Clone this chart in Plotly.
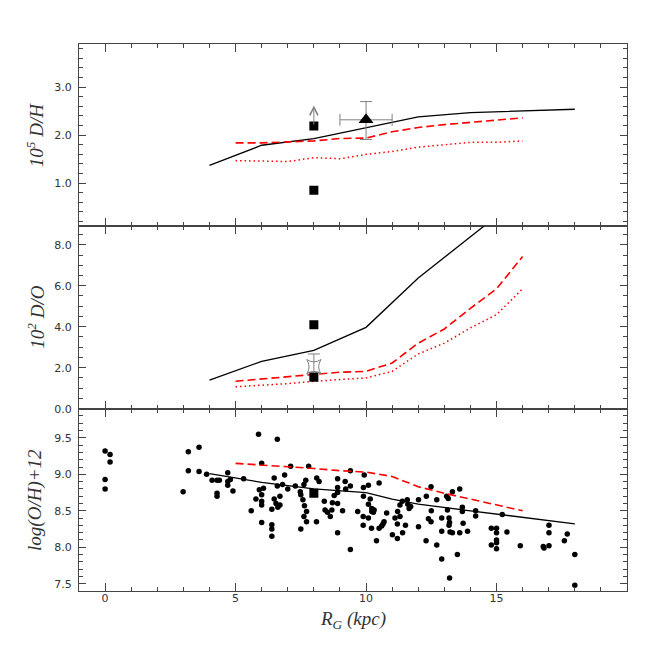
import plotly.graph_objects as go
from plotly.subplots import make_subplots

# model curves, D/H panel
dh_solid_x = [4, 6, 8, 10, 12, 14, 16, 18]
dh_solid_y = [1.37, 1.79, 1.93, 2.15, 2.38, 2.47, 2.51, 2.54]
model_x = [5, 6, 7, 8, 9, 10, 11, 12, 13, 14, 15, 16]
dh_dash_y = [1.84, 1.84, 1.86, 1.88, 1.93, 1.94, 2.07, 2.16, 2.22, 2.27, 2.31, 2.36]
dh_dot_y = [1.47, 1.46, 1.45, 1.53, 1.51, 1.60, 1.66, 1.75, 1.80, 1.85, 1.85, 1.88]

# observations, D/H panel
dh_sq_x = [8, 8]
dh_sq_y = [2.19, 0.85]
dh_limit_from = 2.19
dh_limit_to = 2.62
dh_tri_x = [10]
dh_tri_y = [2.32]
dh_tri_up = [0.38]
dh_tri_down = [0.41]
dh_tri_xerr = [1.0]

# model curves, D/O panel
do_solid_x = [4, 6, 8, 10, 12, 14, 16]
do_solid_y = [1.39, 2.31, 2.85, 3.97, 6.38, 8.40, 10.40]
do_dash_y = [1.34, 1.45, 1.55, 1.66, 1.78, 1.82, 2.23, 3.20, 3.89, 4.90, 5.85, 7.43]
do_dot_y = [1.07, 1.14, 1.22, 1.34, 1.42, 1.50, 1.82, 2.67, 3.20, 3.94, 4.59, 5.85]

# observations, D/O panel
do_sq_x = [8, 8]
do_sq_y = [4.10, 1.53]
do_star_x = [8]
do_star_y = [2.05]
do_star_up = [0.62]
do_star_down = [0.27]

# model curves, O/H panel
oh_solid_x = [4, 6, 8, 10, 11, 12, 14, 16, 18]
oh_solid_y = [9.01, 8.89, 8.80, 8.75, 8.66, 8.59, 8.50, 8.41, 8.32]
oh_dash_y = [9.15, 9.13, 9.10, 9.08, 9.05, 9.03, 8.97, 8.83, 8.74, 8.66, 8.58, 8.50]

# HII regions / stars, O/H panel
oh_x = [0.0, 0.19, 0.19, 0.0, 0.0, 2.99, 3.19, 3.60, 3.19, 3.60, 3.89, 4.10, 4.29, 4.38,
        4.70, 4.70, 4.80, 4.70, 4.29, 4.29, 4.90,
        5.88, 6.60, 6.00, 5.31, 6.48, 6.88, 7.11, 6.80, 6.60, 5.91, 6.07, 6.00, 5.78,
        6.00, 6.00, 6.48, 6.70, 6.55, 6.62, 6.70, 6.39, 5.60, 6.00, 6.39, 6.39, 6.39,
        7.00, 7.29, 7.69, 7.62, 7.48, 7.50, 7.58, 7.64, 7.72, 7.62, 7.72, 7.50, 7.80,
        8.11, 8.20, 8.10, 8.40, 8.43, 8.52, 8.63, 8.69, 8.71, 8.78, 8.91, 8.91, 8.91,
        8.91, 9.10, 9.20, 9.22, 8.91, 9.40, 9.40, 9.40,
        9.93, 9.90, 10.09, 10.50, 9.90, 10.16, 10.09, 10.22, 10.31, 10.22, 10.28, 9.68,
        9.89, 10.09, 9.89, 10.21, 10.50, 10.60, 10.65, 10.69, 10.40, 10.79, 11.11,
        11.21, 11.30, 11.20, 11.01, 11.20, 11.40, 11.51, 11.30, 11.39, 11.58, 11.60,
        11.65, 11.71, 12.01, 12.31, 12.49, 12.71, 12.01, 12.39, 12.49, 12.30, 12.50,
        12.71, 12.90, 12.90, 12.90, 13.09, 13.15, 13.31, 13.12, 13.18, 13.20, 13.18,
        13.22, 13.31, 13.59, 13.69, 13.69, 13.59, 13.89, 13.50, 13.20,
        13.72, 14.20, 14.20, 15.22, 14.80, 15.00, 15.00, 15.40, 14.80, 15.00, 15.00,
        15.00, 15.91, 16.79, 16.82, 17.01, 17.01, 17.01, 17.71, 17.60, 18.00, 18.00]
oh_y = [9.32, 9.27, 9.17, 8.93, 8.80, 8.76, 9.31, 9.37, 9.05, 9.04, 9.00, 8.92, 8.92, 8.92,
        9.02, 8.90, 8.93, 8.85, 8.74, 8.70, 8.77,
        9.55, 9.48, 9.15, 8.94, 8.95, 8.99, 9.11, 8.86, 8.84, 8.79, 8.81, 8.72, 8.66,
        8.63, 8.58, 8.66, 8.70, 8.60, 8.55, 8.58, 8.52, 8.50, 8.34, 8.31, 8.25, 8.15,
        8.80, 8.84, 8.92, 8.86, 8.76, 8.72, 8.65, 8.57, 8.49, 8.42, 8.35, 8.25, 9.11,
        8.95, 8.90, 8.35, 8.63, 8.51, 8.48, 8.42, 8.51, 8.61, 8.71, 8.94, 8.82, 8.75,
        8.60, 8.50, 8.90, 8.80, 8.20, 9.05, 8.84, 7.97,
        8.99, 8.82, 8.85, 8.88, 8.70, 8.66, 8.59, 8.53, 8.51, 8.49, 8.48, 8.49,
        8.42, 8.40, 8.30, 8.26, 8.26, 8.29, 8.32, 8.35, 8.09, 8.47, 8.40,
        8.49, 8.42, 8.32, 8.17, 8.12, 8.20, 8.30, 8.58, 8.63, 8.65, 8.59,
        8.53, 8.56, 8.65, 8.70, 8.83, 8.65, 8.28, 8.39, 8.35, 8.09, 8.50,
        8.03, 8.40, 8.22, 7.84, 8.70, 8.67, 8.76, 8.51, 8.40, 8.34, 8.30,
        8.21, 8.20, 8.80, 8.55, 8.49, 8.20, 8.22, 7.90, 7.58,
        8.33, 8.50, 8.43, 8.45, 8.26, 8.26, 8.20, 8.21, 8.03, 8.10, 8.06,
        7.98, 8.02, 8.01, 7.99, 8.30, 8.20, 8.02, 8.18, 8.09, 7.90, 7.48]
oh_sq_x = [8]
oh_sq_y = [8.74]

x_ticks = [0, 5, 10, 15]

RED = "#ff0000"
GRAY = "#808080"
AXC = "#444444"

fig = make_subplots(rows=3, cols=1, shared_xaxes=True, vertical_spacing=0)


def add_models(row, sx, sy, dash_y, dot_y=None):
    fig.add_trace(go.Scatter(x=sx, y=sy, mode="lines",
                             line=dict(color="black", width=1.3)), row=row, col=1)
    fig.add_trace(go.Scatter(x=model_x, y=dash_y, mode="lines",
                             line=dict(color=RED, width=1.6, dash="8px,4px")),
                  row=row, col=1)
    if dot_y is not None:
        fig.add_trace(go.Scatter(x=model_x, y=dot_y, mode="lines",
                                 line=dict(color=RED, width=1.5, dash="1.5px,3px")),
                      row=row, col=1)


# D/H
add_models(1, dh_solid_x, dh_solid_y, dh_dash_y, dh_dot_y)
fig.add_trace(go.Scatter(x=dh_tri_x, y=dh_tri_y, mode="markers",
                         marker=dict(symbol="triangle-up", size=13, color="black"),
                         error_y=dict(type="data", array=dh_tri_up, arrayminus=dh_tri_down,
                                      color=GRAY, thickness=1, width=6),
                         error_x=dict(type="data", array=dh_tri_xerr,
                                      color=GRAY, thickness=1, width=6)),
              row=1, col=1)
fig.add_trace(go.Scatter(x=dh_sq_x, y=dh_sq_y, mode="markers",
                         marker=dict(symbol="square", size=9, color="black")),
              row=1, col=1)
fig.add_annotation(x=dh_sq_x[0], y=dh_limit_to, ax=dh_sq_x[0], ay=dh_limit_from,
                   xref="x", yref="y", axref="x", ayref="y", text="",
                   showarrow=True, arrowhead=5, arrowsize=1.6, arrowwidth=1,
                   arrowcolor=GRAY)

# D/O
add_models(2, do_solid_x, do_solid_y, do_dash_y, do_dot_y)
fig.add_trace(go.Scatter(x=do_star_x, y=do_star_y, mode="markers",
                         marker=dict(symbol="star-square-open", size=13, color=GRAY,
                                     line=dict(width=1)),
                         error_y=dict(type="data", array=do_star_up, arrayminus=do_star_down,
                                      color=GRAY, thickness=1, width=6)),
              row=2, col=1)
fig.add_trace(go.Scatter(x=do_sq_x, y=do_sq_y, mode="markers",
                         marker=dict(symbol="square", size=9, color="black")),
              row=2, col=1)

# O/H
fig.add_trace(go.Scatter(x=oh_x, y=oh_y, mode="markers",
                         marker=dict(symbol="circle", size=5.5, color="black")),
              row=3, col=1)
fig.add_trace(go.Scatter(x=oh_sq_x, y=oh_sq_y, mode="markers",
                         marker=dict(symbol="square", size=9, color="black")),
              row=3, col=1)
add_models(3, oh_solid_x, oh_solid_y, oh_dash_y)

tickfont = dict(family="DejaVu Sans", size=11, color="#333333")
common = dict(showline=True, linecolor=AXC, linewidth=1, mirror="ticks",
              ticks="inside", tickcolor=AXC, showgrid=False, zeroline=False,
              tickfont=tickfont)

for r in (1, 2, 3):
    fig.update_xaxes(range=[-1, 20], tickmode="array", tickvals=x_ticks, ticklen=8,
                     ticklabelstandoff=-3,
                     minor=dict(tickmode="linear", tick0=0, dtick=1, ticklen=4,
                                ticks="inside", tickcolor=AXC),
                     row=r, col=1, **common)

fig.update_yaxes(range=[0.1, 3.9], tick0=0, dtick=1, tickformat=".1f", ticklen=7,
                 minor=dict(dtick=0.2, ticklen=4, ticks="inside", tickcolor=AXC),
                 ticklabelstandoff=4, row=1, col=1, **common)
fig.update_yaxes(range=[0, 8.9], tick0=0, dtick=2, tickformat=".1f", ticklen=7,
                 minor=dict(dtick=0.5, ticklen=4, ticks="inside", tickcolor=AXC),
                 ticklabelstandoff=4, row=2, col=1, **common)
fig.update_yaxes(range=[7.4, 9.9], tick0=7.5, dtick=0.5, tickformat=".1f", ticklen=7,
                 minor=dict(dtick=0.1, ticklen=4, ticks="inside", tickcolor=AXC),
                 ticklabelstandoff=4, row=3, col=1, **common)

title_font = dict(family="Liberation Serif", size=19, color="#333333")
for txt, yc in [("<i>10<sup>5</sup> D/H</i>", 0.8335),
                ("<i>10<sup>2</sup> D/O</i>", 0.5),
                ("<i>log(O/H)+12</i>", 0.1668)]:
    fig.add_annotation(text=txt, xref="paper", yref="paper", x=-0.08, y=yc,
                       textangle=-90, showarrow=False, font=title_font,
                       xanchor="center", yanchor="middle")
fig.add_annotation(text="<i>R<sub>G</sub> (kpc)</i>", xref="paper", yref="paper",
                   x=0.5, y=-0.053, showarrow=False, font=title_font,
                   xanchor="center", yanchor="middle")

fig.update_layout(width=654, height=654, showlegend=False,
                  margin=dict(l=71, r=35, t=36, b=71),
                  plot_bgcolor="white", paper_bgcolor="white")

fig.write_html("out.html")
